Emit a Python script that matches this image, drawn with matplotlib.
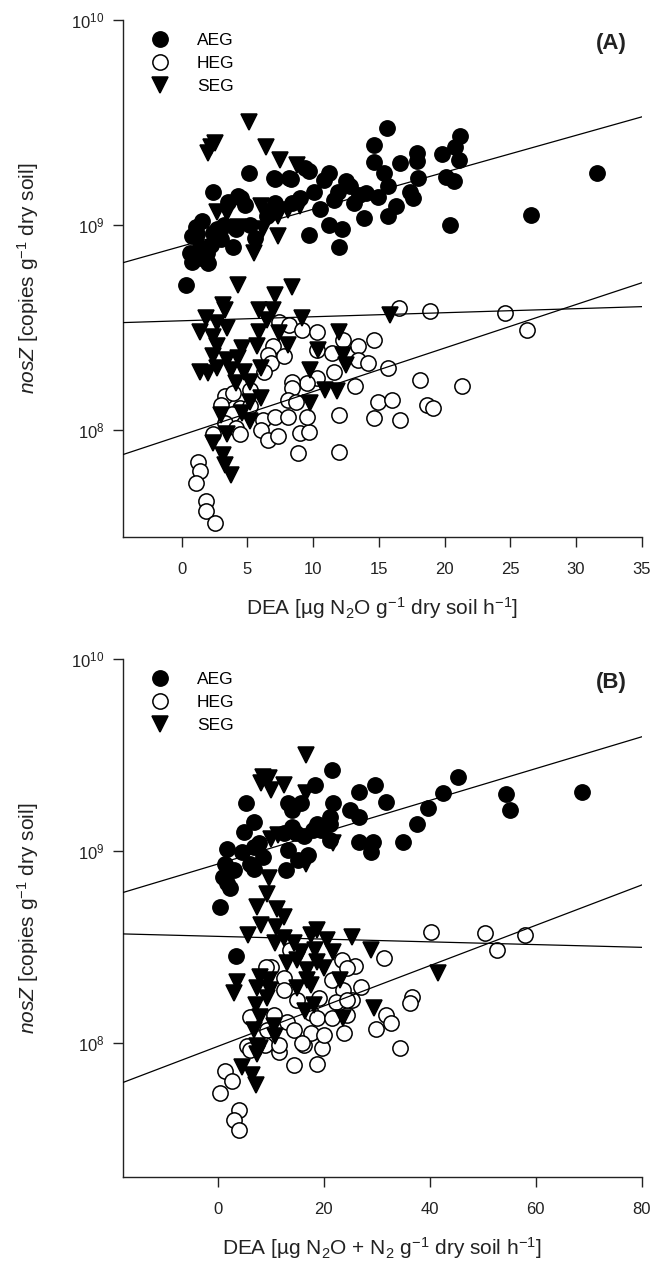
import numpy as np
import matplotlib
matplotlib.use("Agg")
import matplotlib.pyplot as plt
from matplotlib.ticker import NullLocator, LogLocator

plt.rcParams['font.family'] = ['Liberation Sans', 'DejaVu Sans']
plt.rcParams['mathtext.fontset'] = 'custom'
plt.rcParams['mathtext.rm'] = 'Liberation Sans'
plt.rcParams['mathtext.it'] = 'Liberation Sans:italic'
plt.rcParams['mathtext.bf'] = 'Liberation Sans:bold'

# ---- panel A : DEA (N2O) ----
a_aeg_x = [0.3, 0.76, 0.6, 1.1, 1.56, 1.4, 2.0, 1.9, 2.35, 2.67, 2.4, 3.0, 3.56, 3.94, 4.1, 4.5,
           5.2, 5.1, 5.6, 7.1, 7.1, 8.3, 8.4, 9.65, 9.65, 10.1, 10.8, 11.2, 11.2, 11.6, 12.0, 12.2,
           12.5, 12.8, 13.1, 13.9, 14.0, 14.6, 14.6, 14.9, 15.4, 15.6, 15.7, 15.7, 16.3, 16.6, 17.4,
           17.6, 17.9, 17.9, 18.0, 19.8, 20.1, 20.4, 20.7, 20.8, 21.1, 21.2, 26.6, 31.6,
           1.0, 0.8, 1.5, 2.2, 1.2, 3.2, 4.8, 6.5, 9.0, 10.5, 11.9, 13.5, 4.3, 7.0, 8.2, 9.4]
a_aeg_y = [5.1e8, 8.8e8, 7.3e8, 9.8e8, 1.04e9, 7.8e8, 6.5e8, 7.3e8, 9.1e8, 9.5e8, 1.44e9, 8.5e8,
           1.3e9, 7.8e8, 9.5e8, 1.35e9, 1.0e9, 1.79e9, 8.6e8, 1.67e9, 1.28e9, 1.67e9, 1.28e9, 1.84e9,
           8.9e8, 1.44e9, 1.66e9, 1.79e9, 1.0e9, 1.32e9, 7.8e8, 9.6e8, 1.63e9, 1.54e9, 1.28e9, 1.08e9,
           1.43e9, 2.45e9, 2.02e9, 1.37e9, 1.79e9, 2.97e9, 1.54e9, 1.1e9, 1.23e9, 2.0e9, 1.44e9,
           1.35e9, 2.24e9, 2.04e9, 1.69e9, 2.22e9, 1.72e9, 1.0e9, 1.63e9, 2.41e9, 2.07e9, 2.7e9,
           1.12e9, 1.79e9,
           7.0e8, 6.6e8, 6.9e8, 8.0e8, 9.0e8, 1.0e9, 1.25e9, 1.1e9, 1.35e9, 1.2e9, 1.45e9, 1.4e9,
           1.38e9, 1.69e9, 1.69e9, 1.89e9]

a_heg_x = [16.5, 18.9, 24.6, 26.3, 7.4, 8.2, 9.17, 10.3, 6.95, 6.6, 6.8, 7.75, 6.3, 10.3, 11.4,
           12.3, 13.4, 14.6, 13.4, 14.2, 15.7, 11.6, 10.3, 9.5, 8.4, 8.4, 13.2, 18.1, 21.3, 3.3,
           3.94, 3.0, 4.4, 5.2, 5.2, 3.8, 3.3, 4.1, 6.2, 6.0, 6.6, 7.1, 7.3, 8.06, 8.06, 8.7, 9.0,
           9.65, 9.5, 4.4, 2.35, 8.85, 12.0, 12.0, 14.9, 16.0, 14.6, 16.6, 18.7, 19.1, 1.24, 1.4,
           1.08, 1.87, 1.87, 2.5]
a_heg_y = [3.93e8, 3.82e8, 3.71e8, 3.08e8, 3.37e8, 3.25e8, 3.08e8, 3.01e8, 2.55e8, 2.32e8, 2.11e8,
           2.28e8, 1.92e8, 2.45e8, 2.37e8, 2.75e8, 2.55e8, 2.75e8, 2.19e8, 2.11e8, 2.0e8, 1.92e8,
           1.79e8, 1.69e8, 1.72e8, 1.6e8, 1.63e8, 1.75e8, 1.63e8, 1.46e8, 1.51e8, 1.32e8, 1.28e8,
           1.57e8, 1.3e8, 1.2e8, 1.08e8, 1.02e8, 1.12e8, 1.0e8, 8.9e7, 1.16e8, 9.3e7, 1.16e8, 1.4e8,
           1.37e8, 9.6e7, 9.8e7, 1.16e8, 9.5e7, 9.5e7, 7.7e7, 7.8e7, 1.18e8, 1.37e8, 1.4e8, 1.14e8,
           1.12e8, 1.32e8, 1.28e8, 7.0e7, 6.3e7, 5.5e7, 4.47e7, 4.0e7, 3.5e7]

a_seg_x = [5.11, 2.2, 2.0, 2.5, 6.4, 7.5, 8.8, 6.0, 6.6, 7.3, 8.1, 9.0, 2.67, 3.46, 4.25, 6.2, 7.3,
           5.5, 4.25, 8.4, 7.1, 3.15, 5.85, 6.95, 15.85,
           1.87, 3.3, 2.67, 1.4, 2.35, 3.46, 2.67, 4.57, 5.7, 5.85, 6.5, 7.4, 8.06, 2.35, 3.46, 4.25,
           1.4, 2.0, 2.67, 3.78, 4.73, 5.2, 4.1, 6.0, 9.17, 12.0, 10.4, 12.3, 12.5, 9.75, 10.9, 11.8,
           6.0, 5.2, 9.75, 3.0, 4.57, 5.2, 3.46, 2.35, 3.15, 3.3, 3.78]
a_seg_y = [3.19e9, 2.41e9, 2.24e9, 2.5e9, 2.41e9, 2.07e9, 1.96e9, 1.23e9, 1.16e9, 1.1e9, 1.18e9,
           1.23e9, 1.16e9, 1.14e9, 9.8e8, 9.6e8, 8.8e8, 7.3e8, 5.1e8, 5.0e8, 4.56e8, 4.07e8, 3.85e8,
           3.85e8, 3.64e8,
           3.51e8, 3.85e8, 3.31e8, 3.01e8, 2.85e8, 3.13e8, 2.55e8, 2.5e8, 2.55e8, 3.01e8, 3.44e8,
           2.97e8, 2.6e8, 2.28e8, 2.19e8, 2.24e8, 1.92e8, 1.89e8, 2.0e8, 1.96e8, 1.92e8, 1.72e8,
           1.69e8, 2.0e8, 3.51e8, 3.01e8, 2.45e8, 2.32e8, 2.08e8, 1.96e8, 1.57e8, 1.54e8, 1.43e8,
           1.37e8, 1.35e8, 1.18e8, 1.21e8, 1.1e8, 9.5e7, 8.6e7, 7.5e7, 6.7e7, 6.0e7]

# regression lines, log10(nosZ) = intercept + slope * DEA
a_fit = {'AEG': (8.896, 0.01803), 'HEG': (7.974, 0.02124), 'SEG': (8.532, 0.00197)}

# ---- panel B : DEA (N2O + N2) ----
b_aeg_x = [0.47, 1.8, 1.4, 1.0, 2.2, 3.0, 4.56, 5.3, 4.95, 6.9, 6.9, 7.7, 8.5, 6.1, 12.8, 13.2,
           13.2, 14.0, 15.2, 15.6, 17.1, 17.9, 18.3, 18.7, 21.1, 21.5, 21.8, 21.1, 25.0, 26.6, 26.7,
           26.6, 29.3, 28.9, 29.7, 31.7, 35.0, 37.6, 39.7, 42.5, 45.4, 54.3, 55.2, 68.8, 3.4,
           12.4, 14.8, 16.3, 19.5, 21.1, 14.0, 6.9, 1.8]
b_aeg_y = [5.13e8, 1.03e9, 8.6e8, 7.35e8, 6.4e8, 8.0e8, 9.9e8, 1.77e9, 1.26e9, 1.42e9, 8.1e8,
           1.1e9, 9.3e8, 8.6e8, 8.0e8, 1.77e9, 1.01e9, 1.34e9, 9.0e8, 1.77e9, 9.5e8, 1.28e9, 2.21e9,
           1.39e9, 1.39e9, 2.64e9, 1.77e9, 1.14e9, 1.64e9, 2.04e9, 1.51e9, 1.12e9, 1.12e9, 9.9e8,
           2.21e9, 1.79e9, 1.12e9, 1.38e9, 1.68e9, 2.01e9, 2.42e9, 1.98e9, 1.64e9, 2.04e9, 2.84e8,
           1.24e9, 1.24e9, 1.19e9, 1.28e9, 1.51e9, 1.64e9, 1.05e9, 6.8e8]

b_heg_x = [40.3, 50.4, 58.0, 52.7, 31.3, 25.8, 27.0, 36.6, 36.2, 31.7, 32.6, 29.9, 34.3, 23.8,
           18.7, 14.4, 16.3, 19.7, 10.1, 23.4, 25.3, 24.4,
           13.7, 9.0, 24.4, 12.4, 21.5, 23.7, 12.4, 14.9, 19.0, 22.2, 24.4, 6.1, 10.5, 13.05, 17.5,
           18.7, 21.5, 14.3, 17.5, 20.0, 9.3, 5.5, 8.96, 15.9,
           1.4, 2.7, 0.47, 3.9, 3.0, 3.9, 6.1, 11.5, 11.5]
b_heg_y = [3.8e8, 3.76e8, 3.65e8, 3.05e8, 2.76e8, 2.52e8, 1.96e8, 1.74e8, 1.62e8, 1.4e8, 1.27e8,
           1.18e8, 9.4e7, 1.13e8, 7.8e7, 7.7e7, 9.8e7, 9.4e7, 2.5e8, 2.7e8, 1.68e8, 1.4e8,
           3.05e8, 2.5e8, 2.45e8, 2.17e8, 2.13e8, 1.89e8, 1.89e8, 1.68e8, 1.71e8, 1.64e8, 1.68e8,
           1.37e8, 1.4e8, 1.29e8, 1.43e8, 1.35e8, 1.35e8, 1.17e8, 1.12e8, 1.1e8, 1.17e8, 9.6e7,
           9.8e7, 9.95e7,
           7.1e7, 6.3e7, 5.5e7, 4.48e7, 3.97e7, 3.52e7, 9.2e7, 9.0e7, 9.8e7]

b_seg_x = [16.6, 8.5, 9.7, 8.1, 10.1, 12.4, 16.7, 10.1, 11.3, 21.8, 16.7, 9.7, 9.3, 7.3, 11.2,
           12.4, 8.1, 10.9, 5.7, 18.7, 17.5, 25.4, 10.8, 28.9,
           12.4, 14.3, 20.6, 15.6, 18.4, 21.8, 13.05, 14.9, 18.7, 16.8, 20.0, 8.0, 9.6, 16.8, 23.1,
           3.6, 3.0, 7.4, 9.9, 14.9, 17.5, 9.3, 7.1, 18.1, 16.5, 8.0, 23.7, 10.5, 6.75, 10.85, 7.4,
           7.4, 8.0, 4.56, 6.45, 7.1, 41.5, 29.5]
b_seg_y = [3.16e9, 2.44e9, 2.39e9, 2.25e9, 2.08e9, 2.21e9, 2.0e9, 1.16e9, 1.21e9, 1.1e9, 8.6e8,
           7.2e8, 6.0e8, 5.13e8, 5.0e8, 4.55e8, 4.12e8, 4.04e8, 3.65e8, 3.88e8, 3.65e8, 3.58e8,
           3.31e8, 3.05e8,
           3.51e8, 3.31e8, 3.44e8, 2.99e8, 3.05e8, 2.99e8, 2.6e8, 2.7e8, 2.65e8, 2.4e8, 2.45e8,
           2.21e8, 2.13e8, 2.13e8, 2.13e8, 2.08e8, 1.81e8, 1.93e8, 1.89e8, 1.93e8, 2.0e8, 1.71e8,
           1.58e8, 1.58e8, 1.46e8, 1.37e8, 1.35e8, 1.22e8, 1.17e8, 1.08e8, 9.6e7,
           8.7e7, 9.4e7, 7.5e7, 6.8e7, 6.0e7, 2.31e8, 1.52e8]

b_fit = {'AEG': (8.932, 0.008286), 'HEG': (7.982, 0.01051), 'SEG': (8.555, -0.000714)}

groups = ['AEG', 'HEG', 'SEG']
TXT = '#222222'


def draw_panel(ax, data, fit, xlim, ylim, xticks, xlabel, tag):
    styles = {'AEG': dict(marker='o', mfc='black', mec='black'),
              'HEG': dict(marker='o', mfc='white', mec='black'),
              'SEG': dict(marker='v', mfc='black', mec='black')}
    for g in groups:
        x, y = data[g]
        ax.plot(x, y, ls='none', ms=11, mew=1.1, label=g, zorder=2, **styles[g])
    xx = np.array(xlim)
    for g in groups:
        b0, b1 = fit[g]
        ax.plot(xx, 10 ** (b0 + b1 * xx), color='black', lw=0.9, zorder=3)

    ax.set_yscale('log')
    ax.set_xlim(xlim)
    ax.set_ylim(ylim)
    ax.set_xticks(xticks)
    ax.yaxis.set_major_locator(LogLocator(base=10, numticks=10))
    ax.yaxis.set_minor_locator(NullLocator())
    for s in ['top', 'right']:
        ax.spines[s].set_visible(False)
    for s in ['left', 'bottom']:
        ax.spines[s].set_color(TXT)
        ax.spines[s].set_linewidth(1.0)
    ax.tick_params(axis='both', direction='out', length=7, width=1, colors=TXT,
                   labelsize=12)
    ax.tick_params(axis='x', pad=11)
    ax.tick_params(axis='y', pad=6)

    ax.set_xlabel(xlabel, fontsize=15, color=TXT, labelpad=13)
    ax.set_ylabel(r'$\mathit{nosZ}$ [copies g$^{-1}$ dry soil]', fontsize=15,
                  color=TXT, labelpad=22)

    ax.legend(loc='upper left', bbox_to_anchor=(0.056, 0.975), frameon=False,
              fontsize=12.5, handlelength=1.0, handletextpad=1.6, labelspacing=0.45,
              borderpad=0, borderaxespad=0, numpoints=1)
    ax.text(0.972, 0.955, tag, transform=ax.transAxes, ha='right', va='center',
            fontsize=16, fontweight='bold', color=TXT)


fig = plt.figure(figsize=(6.5, 12.64), dpi=100)
ax_a = fig.add_axes([0.1885, 0.5752, 0.7988, 0.409])
ax_b = fig.add_axes([0.1885, 0.0688, 0.7988, 0.4098])

draw_panel(ax_a,
           {'AEG': (a_aeg_x, a_aeg_y), 'HEG': (a_heg_x, a_heg_y), 'SEG': (a_seg_x, a_seg_y)},
           a_fit, (-4.5, 35), (3.0e7, 1e10), range(0, 36, 5),
           r'DEA [µg N$_2$O g$^{-1}$ dry soil h$^{-1}$]', '(A)')
draw_panel(ax_b,
           {'AEG': (b_aeg_x, b_aeg_y), 'HEG': (b_heg_x, b_heg_y), 'SEG': (b_seg_x, b_seg_y)},
           b_fit, (-18, 80), (2.0e7, 1e10), range(0, 81, 20),
           r'DEA [µg N$_2$O + N$_2$ g$^{-1}$ dry soil h$^{-1}$]', '(B)')

fig.savefig('out.png', dpi=100)
